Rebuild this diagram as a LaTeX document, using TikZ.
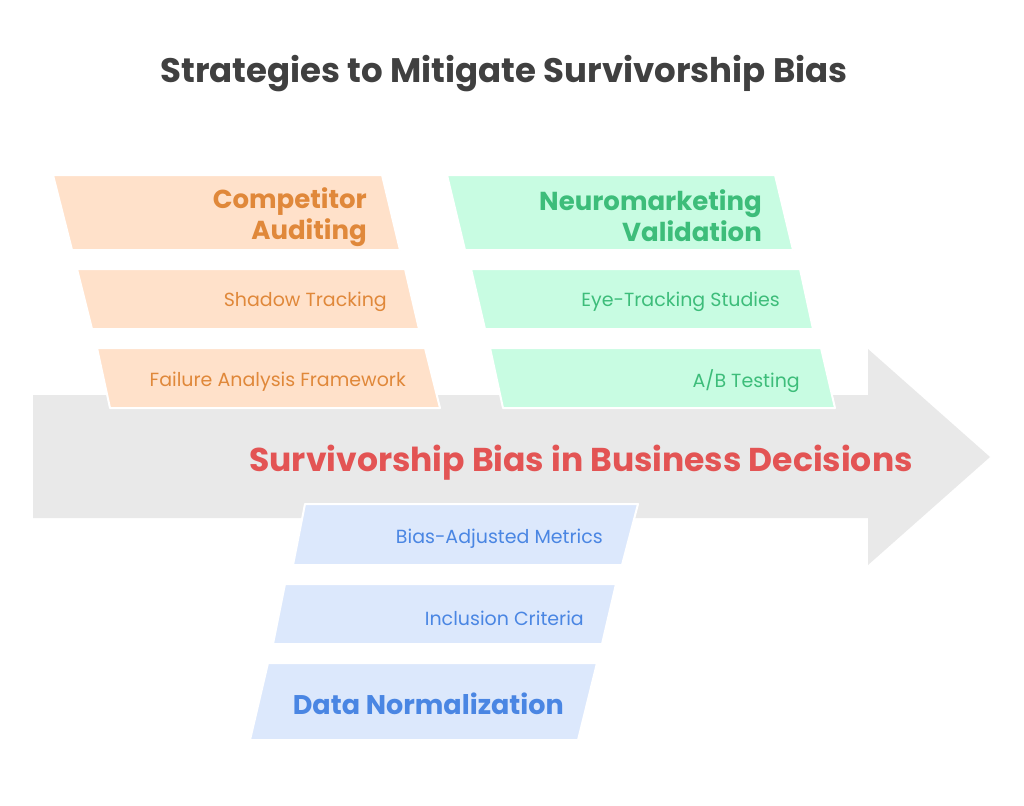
\documentclass[tikz,border=0pt]{standalone}
\usepackage{fontspec}
\setmainfont{Poppins}
\definecolor{arrowgray}{HTML}{E9E9E9}
\definecolor{ofill}{HTML}{FFE1CA}
\definecolor{otext}{HTML}{E0883A}
\definecolor{gfill}{HTML}{C8FCE2}
\definecolor{gtext}{HTML}{3DBD7A}
\definecolor{bfill}{HTML}{DCE8FC}
\definecolor{btext}{HTML}{4A86E3}
\definecolor{titlec}{HTML}{404040}
\definecolor{mainc}{HTML}{E35454}
\tikzset{
  band/.style={line width=2pt, draw=white, line join=round},
  head/.style={inner sep=0pt, align=right, font=\fontsize{26}{31}\selectfont\bfseries},
  item/.style={inner sep=0pt, font=\fontsize{19}{22}\selectfont},
}
\begin{document}
\begin{tikzpicture}[x=1pt,y=-1pt]
\useasboundingbox (0,0) rectangle (1024,805);
\fill[white] (0,0) rectangle (1024,805);
% main arrow
\fill[arrowgray] (33,395) -- (868,395) -- (868,349) -- (990,457) -- (868,565) -- (868,518) -- (33,518) -- cycle;
% orange bands
\filldraw[band, fill=ofill] (53,175) -- (382,175) -- (400,250) -- (72,250) -- cycle;
\filldraw[band, fill=ofill] (77,269) -- (405,269) -- (419,329) -- (92,329) -- cycle;
\filldraw[band, fill=ofill] (97,348) -- (425,348) -- (440,408) -- (110,408) -- cycle;
% green bands
\filldraw[band, fill=gfill] (447,175) -- (775,175) -- (793,250) -- (465,250) -- cycle;
\filldraw[band, fill=gfill] (471,269) -- (800,269) -- (813,329) -- (485,329) -- cycle;
\filldraw[band, fill=gfill] (490,348) -- (821,348) -- (835,408) -- (503,408) -- cycle;
% blue bands
\filldraw[band, fill=bfill] (305,504) -- (638,504) -- (622,565) -- (293,565) -- cycle;
\filldraw[band, fill=bfill] (285,584) -- (616,584) -- (602,644) -- (273,644) -- cycle;
\filldraw[band, fill=bfill] (268,663) -- (597,663) -- (578,740) -- (250,740) -- cycle;
% title
\node[inner sep=0pt, text=titlec, font=\fontsize{34}{38}\selectfont\bfseries] (title) at (504,74) {Strategies to Mitigate Survivorship Bias};
% main label
\node[inner sep=0pt, text=mainc, font=\fontsize{33}{38}\selectfont\bfseries] (main) at (581,463) {Survivorship Bias in Business Decisions};
% orange texts
\node[head, text=otext, anchor=east] (comp) at (367,217) {Competitor\\Auditing};
\node[item, text=otext, anchor=east] (shadow) at (387,302) {Shadow Tracking};
\node[item, text=otext, anchor=east] (fail) at (406,382) {Failure Analysis Framework};
% green texts
\node[head, text=gtext, anchor=east] (neuro) at (762,216) {Neuromarketing\\Validation};
\node[item, text=gtext, anchor=east] (eye) at (780,302) {Eye-Tracking Studies};
\node[item, text=gtext, anchor=east] (ab) at (800,381) {A/B Testing};
% blue texts
\node[item, text=btext, anchor=east] (bias) at (603,539) {Bias-Adjusted Metrics};
\node[item, text=btext, anchor=east] (incl) at (584,618) {Inclusion Criteria};
\node[head, text=btext, anchor=east, font=\fontsize{27}{31}\selectfont\bfseries] (norm) at (564,704) {Data Normalization};
\end{tikzpicture}
\end{document}
